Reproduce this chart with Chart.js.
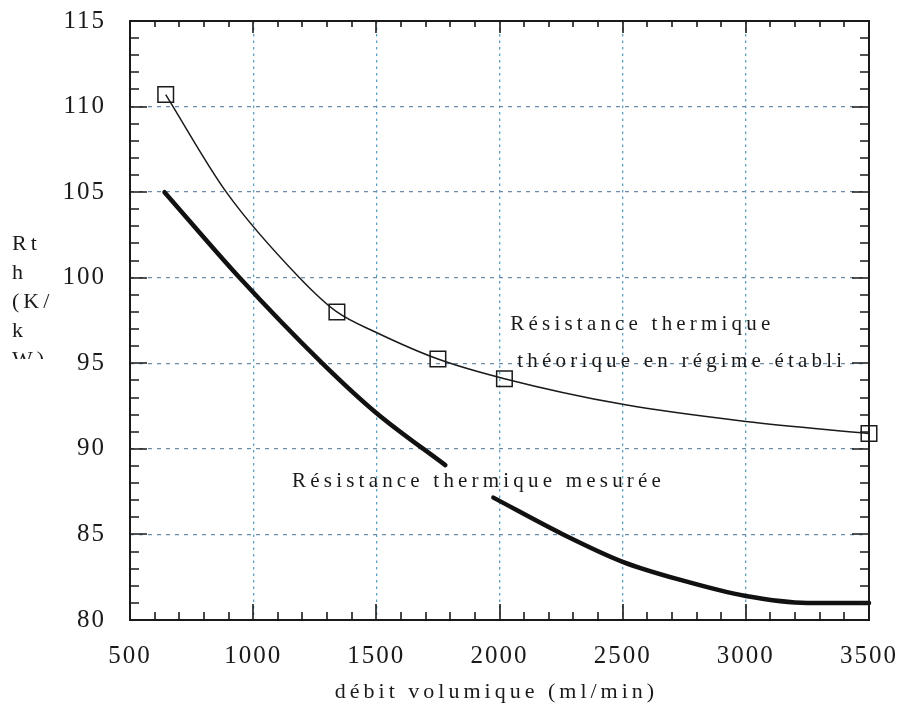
<!DOCTYPE html>
<html>
<head>
<meta charset="utf-8">
<script src="https://cdn.jsdelivr.net/npm/chart.js@4"></script>
<style>
  body { margin: 0; background: #fff; }
  canvas { display: block; }
</style>
</head>
<body>
<canvas id="rthChart" width="902" height="706"></canvas>
<script>
const ctx = document.getElementById("rthChart");

//. Axis ticks
const xTickValues = [500, 1000, 1500, 2000, 2500, 3000, 3500];
const yTickValues = [80, 85, 90, 95, 100, 105, 110, 115];
const xMinorStep = 100,
  yMinorStep = 1;

//. Theoretical steady-state resistance (thin curve + square markers)
const theoryFlow = [645, 891, 1188, 1340, 1500, 1750, 2020, 2500, 3000, 3500];
const theoryRth = [110.7, 105, 100, 98, 96.8, 95.25, 94.1, 92.6, 91.6, 90.9];
const theoryPointFlow = [645, 1340, 1750, 2020, 3500];
const theoryPointRth = [110.7, 98, 95.25, 94.1, 90.9];

//. Measured resistance (thick curve, broken where the label sits)
const measuredFlow = [640, 945, 1281, 1500, 1780, 1880, 1975, 2258, 2500, 2745, 3000, 3250, 3500];
const measuredRth = [105, 100, 95, 92.1, 89.05, null, 87.15, 85, 83.4, 82.3, 81.4, 81.0, 81.0];

const yTitleLines = ["Rt", "h", "(K/", "k", "W)"];
const xTitle = "débit volumique (ml/min)";
const theoryLabel = ["Résistance thermique", "théorique en régime établi"];
const measuredLabel = "Résistance thermique mesurée";

const ink = "#1a1a1a";
const serif = '"Liberation Serif", "Times New Roman", serif';

function toPoints(xs, ys) {
  return xs.map((x, i) => ({ x: x, y: ys[i] }));
}

function spacedText(c, str, x, y, size, spacing, align) {
  c.font = size + "px " + serif;
  c.letterSpacing = spacing + "px";
  c.textAlign = align || "left";
  c.textBaseline = "alphabetic";
  c.fillText(str, x, y);
}

//. Frame with inward ticks on every side, plus the text labels
const framePlugin = {
  id: "frame",
  beforeDraw(chart) {
    // tick labels are drawn by the scales with a little tracking
    chart.ctx.letterSpacing = "2px";
  },
  afterDraw(chart) {
    const c = chart.ctx,
      a = chart.chartArea,
      xs = chart.scales.x,
      ys = chart.scales.y;
    c.save();
    c.strokeStyle = ink;
    c.lineWidth = 1.6;
    c.beginPath();
    for (let v = xTickValues[0]; v <= xTickValues[xTickValues.length - 1]; v += xMinorStep) {
      const px = Math.round(xs.getPixelForValue(v));
      const major = xTickValues.includes(v);
      c.moveTo(px, a.bottom);
      c.lineTo(px, a.bottom - (major ? 16 : 8));
      c.moveTo(px, a.top);
      c.lineTo(px, a.top + (major ? 12 : 6));
    }
    for (let v = yTickValues[0]; v <= yTickValues[yTickValues.length - 1]; v += yMinorStep) {
      const py = Math.round(ys.getPixelForValue(v));
      const major = yTickValues.includes(v);
      c.moveTo(a.left, py);
      c.lineTo(a.left + (major ? 17 : 9), py);
      c.moveTo(a.right, py);
      c.lineTo(a.right - (major ? 17 : 9), py);
    }
    c.stroke();
    c.lineWidth = 2;
    c.strokeRect(a.left, a.top, a.right - a.left, a.bottom - a.top);

    c.fillStyle = ink;
    // curve labels
    spacedText(c, theoryLabel[0], xs.getPixelForValue(2044), ys.getPixelForValue(96.95), 21, 4.2);
    spacedText(c, theoryLabel[1], xs.getPixelForValue(2072), ys.getPixelForValue(94.8), 21, 4.2);
    spacedText(c, measuredLabel, xs.getPixelForValue(1158), ys.getPixelForValue(87.8), 21, 4.2);

    // x axis title
    spacedText(c, xTitle, (a.left + a.right) / 2 - 3, 698, 22, 4, "center");

    // y axis title, wrapped and cut off at the bottom
    c.save();
    c.beginPath();
    c.rect(0, 0, 120, 359);
    c.clip();
    yTitleLines.forEach((line, i) => {
      spacedText(c, line, 12, 250 + i * 29, 22, 4);
    });
    c.restore();

    c.restore();
    c.letterSpacing = "0px";
  },
};

//. Defining chart
const myChart = new Chart(ctx, {
  type: "scatter",
  data: {
    datasets: [
      {
        label: "théorique",
        data: toPoints(theoryFlow, theoryRth),
        showLine: true,
        clip: false,
        borderColor: ink,
        borderWidth: 1.5,
        pointRadius: 0,
        cubicInterpolationMode: "monotone",
      },
      {
        label: "points théoriques",
        data: toPoints(theoryPointFlow, theoryPointRth),
        showLine: false,
        clip: false,
        pointStyle: "rect",
        pointRadius: 11,
        pointBorderWidth: 1.5,
        pointBorderColor: ink,
        pointBackgroundColor: "rgba(0,0,0,0)",
      },
      {
        label: "mesurée",
        data: toPoints(measuredFlow, measuredRth),
        showLine: true,
        spanGaps: false,
        clip: false,
        borderColor: "#111",
        borderWidth: 4.5,
        borderCapStyle: "round",
        borderJoinStyle: "round",
        pointRadius: 0,
        cubicInterpolationMode: "monotone",
      },
    ],
  },
  options: {
    responsive: false,
    animation: false,
    devicePixelRatio: 1,
    events: [],
    layout: { padding: { top: 21, right: 33, left: 0, bottom: 0 } },
    plugins: { legend: { display: false }, tooltip: { enabled: false } },
    scales: {
      x: {
        type: "linear",
        min: xTickValues[0],
        max: xTickValues[xTickValues.length - 1],
        afterBuildTicks: (s) => {
          s.ticks = xTickValues.map((v) => ({ value: v }));
        },
        afterFit: (s) => {
          s.height = 86;
          s.paddingLeft = 0;
          s.paddingRight = 0;
        },
        grid: { color: "#5d9fc2", lineWidth: 1.3, drawTicks: false },
        border: { display: false, dash: [2.5, 4] },
        ticks: {
          padding: 21,
          color: ink,
          font: { family: serif, size: 25 },
          callback: (v) => String(v),
        },
      },
      y: {
        min: yTickValues[0],
        max: yTickValues[yTickValues.length - 1],
        afterBuildTicks: (s) => {
          s.ticks = yTickValues.map((v) => ({ value: v }));
        },
        afterFit: (s) => {
          s.width = 130;
          s.paddingTop = 0;
          s.paddingBottom = 0;
        },
        grid: { color: "#6c8cab", lineWidth: 1.3, drawTicks: false },
        border: { display: false, dash: [4, 5] },
        ticks: {
          padding: 24,
          color: ink,
          font: { family: serif, size: 25 },
          callback: (v) => String(v),
        },
      },
    },
  },
  plugins: [framePlugin],
});
</script>
</body>
</html>
